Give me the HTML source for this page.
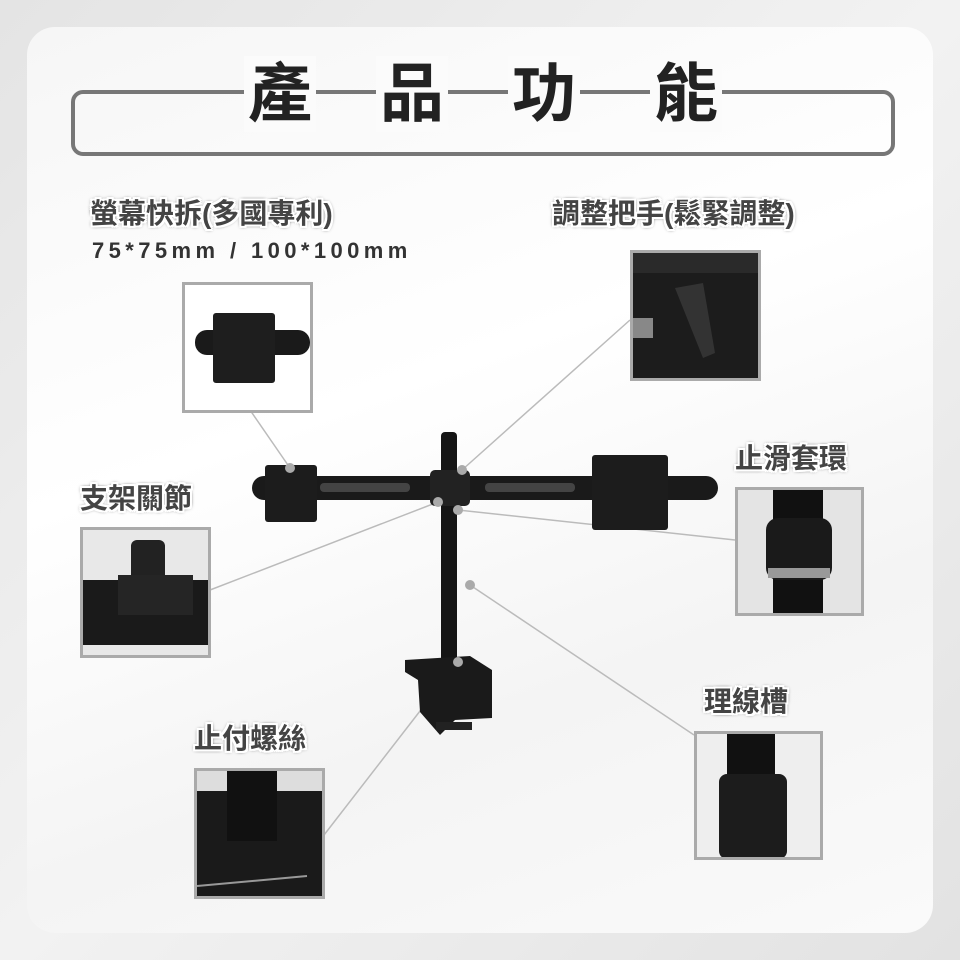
<!DOCTYPE html>
<html><head><meta charset="utf-8"><style>
html,body{margin:0;padding:0}
body{width:960px;height:960px;position:relative;overflow:hidden;background:linear-gradient(135deg,#e4e4e4,#f2f2f2 50%,#e2e2e2);font-family:"Liberation Sans","Noto Sans CJK TC",sans-serif}
.card{position:absolute;left:27px;top:27px;width:906px;height:906px;border-radius:28px;background:linear-gradient(160deg,#f6f6f6,#ffffff 40%,#f4f4f4 70%,#fafafa)}
.tb{position:absolute;left:71px;top:90px;width:816px;height:58px;border:4px solid #777;border-radius:12px}
.tt{position:absolute;top:56px;font-size:64px;font-weight:bold;color:#222;background:#fbfbfb;padding:0 4px;line-height:76px}
.lb{position:absolute;font-size:28px;font-weight:bold;color:#444;letter-spacing:0px;
text-shadow:-2px 0 #fff,2px 0 #fff,0 -2px #fff,0 2px #fff,-2px -2px #fff,2px 2px #fff,-2px 2px #fff,2px -2px #fff,0 0 4px #222,0 0 3px #222;line-height:30px;white-space:nowrap}
.sub{position:absolute;left:92px;top:238px;font-size:22px;font-weight:bold;color:#333;letter-spacing:4.4px;font-family:"Liberation Sans",sans-serif}
.ins{position:absolute;border:3px solid #aaa;box-sizing:border-box;overflow:hidden}
svg{position:absolute;left:0;top:0}
</style></head><body>
<div class="card"></div>
<div class="tb"></div>
<div class="tt" style="left:244px">產</div>
<div class="tt" style="left:376px">品</div>
<div class="tt" style="left:508px">功</div>
<div class="tt" style="left:650px">能</div>

<div class="lb" style="left:90px;top:199px">螢幕快拆(多國專利)</div>
<div class="sub">75*75mm / 100*100mm</div>
<div class="lb" style="left:552px;top:199px">調整把手(鬆緊調整)</div>
<div class="lb" style="left:735px;top:444px">止滑套環</div>
<div class="lb" style="left:80px;top:484px">支架關節</div>
<div class="lb" style="left:704px;top:687px">理線槽</div>
<div class="lb" style="left:194px;top:724px">止付螺絲</div>

<svg width="960" height="960">
<g stroke="#bbb" stroke-width="1.5">
<line x1="250" y1="410" x2="290" y2="468"/>
<line x1="630" y1="320" x2="462" y2="470"/>
<line x1="735" y1="540" x2="458" y2="510"/>
<line x1="210" y1="590" x2="438" y2="502"/>
<line x1="694" y1="735" x2="470" y2="585"/>
<line x1="324" y1="835" x2="458" y2="662"/>
</g>
<rect x="252" y="476" width="466" height="24" rx="12" fill="#1a1a1a"/>
<rect x="320" y="483" width="90" height="9" rx="4" fill="#444"/>
<rect x="485" y="483" width="90" height="9" rx="4" fill="#444"/>
<rect x="441" y="432" width="16" height="230" rx="4" fill="#151515"/>
<rect x="430" y="470" width="40" height="36" rx="5" fill="#222"/>
<rect x="265" y="465" width="52" height="57" rx="3" fill="#1c1c1c"/>
<rect x="592" y="455" width="76" height="75" rx="3" fill="#1c1c1c"/>
<path d="M405 660 L470 656 L492 670 L492 718 L455 720 L440 735 L420 712 L418 680 L405 672Z" fill="#1a1a1a"/>
<rect x="436" y="722" width="36" height="8" fill="#222"/>
<g fill="#aaa"><circle cx="290" cy="468" r="5"/><circle cx="462" cy="470" r="5"/><circle cx="458" cy="510" r="5"/><circle cx="438" cy="502" r="5"/><circle cx="470" cy="585" r="5"/><circle cx="458" cy="662" r="5"/></g>
</svg>

<div class="ins" style="left:182px;top:282px;width:131px;height:131px;background:#fff">
<svg width="131" height="131"><rect x="10" y="45" width="115" height="25" rx="12" fill="#1a1a1a"/><rect x="28" y="28" width="62" height="70" rx="3" fill="#1e1e1e"/></svg></div>
<div class="ins" style="left:630px;top:250px;width:131px;height:131px;background:#1c1c1c">
<svg width="131" height="131"><rect x="0" y="0" width="131" height="20" fill="#2a2a2a"/><path d="M42 35 L70 30 L82 100 L70 105Z" fill="#333"/><rect x="0" y="65" width="20" height="20" fill="#888"/></svg></div>
<div class="ins" style="left:735px;top:487px;width:129px;height:129px;background:#e4e4e4">
<svg width="129" height="129"><rect x="35" y="0" width="50" height="129" fill="#111"/><rect x="28" y="28" width="66" height="62" rx="12" fill="#1a1a1a"/><rect x="30" y="78" width="62" height="10" fill="#999"/></svg></div>
<div class="ins" style="left:80px;top:527px;width:131px;height:131px;background:#e8e8e8">
<svg width="131" height="131"><rect x="48" y="10" width="34" height="50" rx="6" fill="#222"/><rect x="0" y="50" width="131" height="65" fill="#1a1a1a"/><rect x="35" y="45" width="75" height="40" fill="#252525"/></svg></div>
<div class="ins" style="left:194px;top:768px;width:131px;height:131px;background:#ddd">
<svg width="131" height="131"><path d="M0 20 L131 20 L131 131 L0 131Z" fill="#1a1a1a"/><rect x="30" y="0" width="50" height="70" fill="#111"/><path d="M0 115 L110 105" stroke="#999" stroke-width="2"/></svg></div>
<div class="ins" style="left:694px;top:731px;width:129px;height:129px;background:#eee">
<svg width="129" height="129"><rect x="30" y="0" width="48" height="129" fill="#111"/><rect x="22" y="40" width="68" height="85" rx="8" fill="#1c1c1c"/></svg></div>
</body></html>
